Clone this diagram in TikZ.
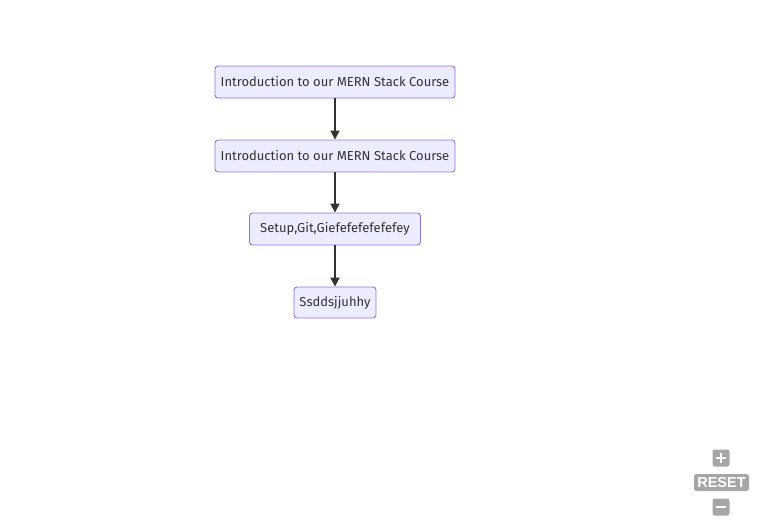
\documentclass[tikz,border=0pt]{standalone}
\usepackage{fontspec}
\setmainfont{Fira Sans}
\newfontfamily\ctrlfont{Liberation Sans}
\usetikzlibrary{arrows.meta}
\definecolor{nodefill}{HTML}{ECECFF}
\definecolor{nodeline}{HTML}{9370DB}
\definecolor{txt}{HTML}{333333}
\definecolor{ctrl}{HTML}{A6A6A6}
\tikzset{
  flowbox/.style={draw=nodeline, fill=nodefill, rounded corners=3pt, line width=0.9pt,
    minimum height=32pt, inner sep=0pt, text=txt, font=\fontsize{13}{15}\selectfont},
  flowarrow/.style={draw=txt, line width=1.8pt, -{Triangle[length=9pt,width=9pt]}},
  ctrlbox/.style={fill=ctrl, rounded corners=2.5pt, inner sep=0pt}
}
\begin{document}
\begin{tikzpicture}[x=1pt,y=-1pt]
\useasboundingbox (0,0) rectangle (760,523);
\node[flowbox, minimum width=240pt] (n1) at (335,82) {Introduction to our MERN Stack Course};
\node[flowbox, minimum width=240pt] (n2) at (335,156) {Introduction to our MERN Stack Course};
\node[flowbox, minimum width=171pt] (n3) at (335,229) {Setup,Git,Giefefefefefefey};
\node[flowbox, minimum width=82pt, minimum height=31pt] (n4) at (335,302.5) {Ssddsjjuhhy};
\draw[flowarrow] (n1.south) -- (n2.north);
\draw[flowarrow] (n2.south) -- (n3.north);
\draw[flowarrow] (n3.south) -- (n4.north);
% zoom controls
\node[ctrlbox, minimum width=17pt, minimum height=17pt] (plus) at (721,458) {};
\draw[white, line width=2.6pt] ([xshift=-5pt]plus.center) -- ([xshift=5pt]plus.center);
\draw[white, line width=2.6pt] ([yshift=-5pt]plus.center) -- ([yshift=5pt]plus.center);
\node[ctrlbox, minimum width=55pt, minimum height=17pt, text=white, font=\ctrlfont\bfseries\fontsize{14.5}{15}\selectfont] (reset) at (721.5,482.5) {RESET};
\node[ctrlbox, minimum width=17pt, minimum height=17pt] (minus) at (721,507) {};
\draw[white, line width=2.6pt] ([xshift=-5pt]minus.center) -- ([xshift=5pt]minus.center);
\end{tikzpicture}
\end{document}
